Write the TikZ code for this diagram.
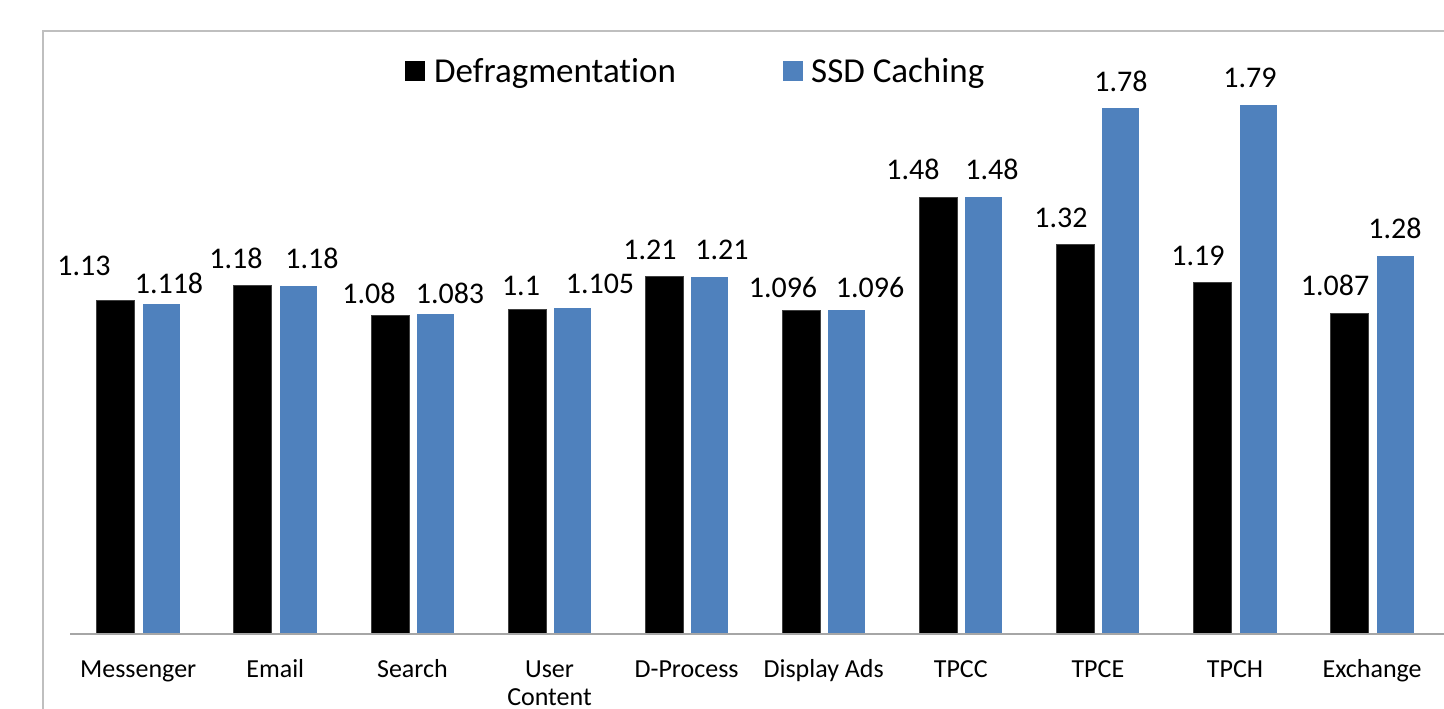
\documentclass[tikz,border=0pt]{standalone}
\usepackage{fontspec}
\setmainfont{Carlito}[Ligatures=NoCommon]
\definecolor{ssdblue}{HTML}{4F81BD}
\definecolor{framegray}{HTML}{BFBFBF}
\definecolor{axisgray}{HTML}{A6A6A6}
\begin{document}
\begin{tikzpicture}[x=1pt,y=-1pt,
  vallabel/.style={font=\fontsize{30}{36}\selectfont, anchor=base, inner sep=0pt},
  catlabel/.style={font=\fontsize{26}{31}\selectfont, anchor=base, inner sep=0pt},
  legendtext/.style={font=\fontsize{35}{42}\selectfont, anchor=base west, inner sep=0pt},
  defbar/.style={fill=black, draw=black!75!white, line width=0.8pt},
  ssdbar/.style={fill=ssdblue}]
\useasboundingbox (0,0) rectangle (1444,709);
\fill[white] (0,0) rectangle (1444,709);
% chart frame (continues past the right and bottom edges)
\draw[framegray, line width=2pt] (1444,31) -- (43,31) -- (43,709);
% bars: defragmentation (black) and SSD caching (blue), 295.5 units per 1.0
\foreach \i/\d/\s in {0/1.13/1.118, 1/1.18/1.18, 2/1.08/1.083, 3/1.1/1.105,
    4/1.21/1.21, 5/1.096/1.096, 6/1.48/1.48, 7/1.32/1.78, 8/1.19/1.79, 9/1.087/1.28}{
  \pgfmathsetmacro\xl{96.7+137.1*\i}
  \path[defbar] (\xl,634.3) rectangle ++(38,-\d*295.5);
  \path[ssdbar] (\xl+46,634.3) rectangle ++(37,-\s*295.5);
}
% category axis
\draw[axisgray, line width=2pt] (70,634.3) -- (1444,634.3);
% value labels
\foreach \n/\x/\y/\t in {
    a1/84/275/1.13, a2/169/293/1.118,
    b1/236/268/1.18, b2/312/268/1.18,
    c1/369/303/1.08, c2/450/303/1.083,
    d1/521/295/1.1, d2/600/293/1.105,
    e1/650/259/1.21, e2/722/259/1.21,
    f1/783/297/1.096, f2/870/297/1.096,
    g1/913/179/1.48, g2/992/179/1.48,
    h1/1061/227/1.32, h2/1121/92/1.78,
    k1/1198/265/1.19, k2/1250/88/1.79,
    m1/1335/295/1.087, m2/1395/238/1.28}
  \node[vallabel] (v\n) at (\x,\y) {\t};
% category labels
\foreach \n/\t [count=\i from 0] in {msg/Messenger, mail/Email, srch/Search,
    user/User, dproc/D-Process, ads/Display Ads, tpcc/TPCC, tpce/TPCE,
    tpch/TPCH, exch/Exchange}
  \node[catlabel] (c\n) at ({138.2+137.1*\i},677) {\t};
\node[catlabel] (cuser2) at (549.5,705) {Content};
% legend
\fill[black] (405,61) rectangle (425,81);
\node[legendtext] (ldef) at (434,82) {Defragmentation};
\fill[ssdblue] (783,61) rectangle (803,81);
\node[legendtext] (lssd) at (811,82) {SSD Caching};
\end{tikzpicture}
\end{document}
